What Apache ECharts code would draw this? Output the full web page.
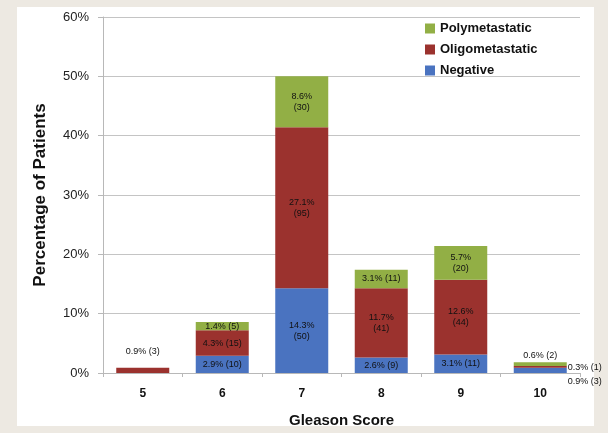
<!DOCTYPE html>
<html>
<head>
<meta charset="utf-8">
<script src="https://cdn.jsdelivr.net/npm/echarts@6/dist/echarts.min.js"></script>
<style>
  html, body { margin: 0; padding: 0; background: #ede9e2; }
  #panel { position: absolute; left: 17px; top: 7px; width: 577px; height: 419px; background: #ffffff; }
  #chart { position: absolute; left: 0; top: 0; width: 608px; height: 433px; }
</style>
</head>
<body>
<div id="panel"></div>
<div id="chart"></div>
<script>
// Gleason score categories
const categories = ['5', '6', '7', '8', '9', '10'];
// Percentage of patients per metastatic status
const negativePct = [0, 2.9, 14.3, 2.6, 3.1, 0.9];
const oligoPct    = [0.9, 4.3, 27.1, 11.7, 12.6, 0.3];
const polyPct     = [0, 1.4, 8.6, 3.1, 5.7, 0.6];
// Patient counts per metastatic status
const negativeN = [0, 10, 50, 9, 11, 3];
const oligoN    = [3, 15, 95, 41, 44, 1];
const polyN     = [0, 5, 30, 11, 20, 2];
const yTicks = ['0%', '10%', '20%', '30%', '40%', '50%', '60%'];

const FONT = 'Liberation Sans, Arial, sans-serif';

const seriesDefs = [
  { name: 'Negative', pct: negativePct, n: negativeN, color: '#4a73c0' },
  { name: 'Oligometastatic', pct: oligoPct, n: oligoN, color: '#9b322e' },
  { name: 'Polymetastatic', pct: polyPct, n: polyN, color: '#92af45' }
];

function isTopSegment(si, i) {
  for (let k = si + 1; k < seriesDefs.length; k++) {
    if (seriesDefs[k].pct[i] > 0) return false;
  }
  return true;
}

function hasLowerSegment(si, i) {
  for (let k = 0; k < si; k++) {
    if (seriesDefs[k].pct[i] > 0) return true;
  }
  return false;
}

function segmentLabel(si, i) {
  const d = seriesDefs[si];
  const v = d.pct[i];
  const txt = v.toFixed(1) + '%' + (v >= 5 ? '\n' : ' ') + '(' + d.n[i] + ')';
  const base = { show: true, formatter: txt, fontSize: 9, color: '#111', fontFamily: FONT, lineHeight: 11 };
  if (v >= 1.2) return Object.assign(base, { position: 'inside' });
  if (isTopSegment(si, i)) {
    return Object.assign(base, { position: 'top', distance: hasLowerSegment(si, i) ? 1 : 11 });
  }
  // thin lower segments: label to the right, staggered
  return Object.assign(base, { position: 'right', distance: 1, offset: [0, si === 0 ? 11 : 1] });
}

const series = seriesDefs.map((d, si) => ({
  name: d.name,
  type: 'bar',
  stack: 'total',
  barWidth: 53,
  itemStyle: { color: d.color },
  data: d.pct.map((v, i) => (v > 0 ? { value: v, label: segmentLabel(si, i) } : { value: 0, label: { show: false } }))
}));

const chart = echarts.init(document.getElementById('chart'), null, { renderer: 'canvas' });
chart.setOption({
  backgroundColor: 'transparent',
  animation: false,
  grid: { left: 103, right: 28, top: 17, bottom: 55 },
  legend: {
    data: ['Polymetastatic', 'Oligometastatic', 'Negative'],
    orient: 'vertical',
    left: 420,
    top: 17,
    itemWidth: 10,
    itemHeight: 10,
    itemGap: 8,
    icon: 'rect',
    textStyle: { fontSize: 13, fontWeight: 'bold', color: '#111', fontFamily: FONT }
  },
  xAxis: {
    type: 'category',
    data: categories,
    name: 'Gleason Score',
    nameLocation: 'middle',
    nameGap: 40,
    nameTextStyle: { fontSize: 15, fontWeight: 'bold', color: '#111', fontFamily: FONT },
    axisLine: { lineStyle: { color: '#b8b8b8' } },
    axisTick: { show: true, length: 4, lineStyle: { color: '#b8b8b8' } },
    axisLabel: { fontSize: 12, fontWeight: 'bold', color: '#111', margin: 15, fontFamily: FONT }
  },
  yAxis: {
    type: 'value',
    min: 0,
    max: 60,
    interval: 10,
    name: 'Percentage of Patients',
    nameLocation: 'middle',
    nameGap: 54,
    nameTextStyle: { fontSize: 17, fontWeight: 'bold', color: '#111', fontFamily: FONT },
    axisLine: { show: true, lineStyle: { color: '#b8b8b8' } },
    axisTick: { show: true, length: 5, lineStyle: { color: '#b8b8b8' } },
    axisLabel: {
      fontSize: 13, color: '#222', margin: 14, fontFamily: FONT,
      formatter: (v) => yTicks[Math.round(v / 10)]
    },
    splitLine: { lineStyle: { color: '#c4c4c4' } }
  },
  series: series
});
</script>
</body>
</html>
